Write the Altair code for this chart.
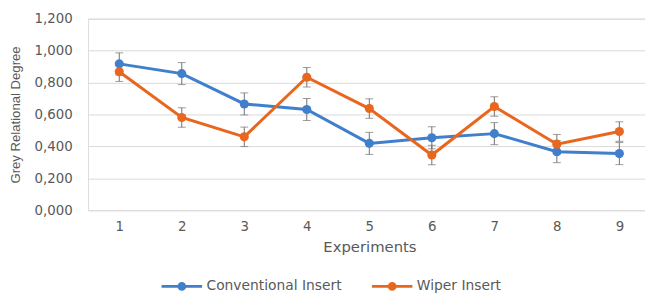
import altair as alt
import pandas as pd

experiments = [1, 2, 3, 4, 5, 6, 7, 8, 9]
conventional = [0.917, 0.856, 0.666, 0.631, 0.419, 0.454, 0.480, 0.367, 0.355]
wiper = [0.868, 0.581, 0.460, 0.833, 0.637, 0.346, 0.650, 0.414, 0.493]
err_conventional = 0.069
err_wiper = 0.061
series_names = ["Conventional Insert", "Wiper Insert"]
series_colors = ["#3F7FCB", "#E8661E"]
y_ticks = [0.0, 0.2, 0.4, 0.6, 0.8, 1.0, 1.2]

rows = []
for e, c, w in zip(experiments, conventional, wiper):
    rows.append({"exp": e, "series": series_names[0], "value": c,
                 "lo": c - err_conventional, "hi": c + err_conventional})
    rows.append({"exp": e, "series": series_names[1], "value": w,
                 "lo": w - err_wiper, "hi": w + err_wiper})
df = pd.DataFrame(rows)

TXT = "#595959"
FONT = "DejaVu Sans"
xscale = alt.Scale(domain=[0.5, 9.41], nice=False, zero=False)
yscale = alt.Scale(domain=[0, 1.2], nice=False)
cscale = alt.Scale(domain=series_names, range=series_colors)

x_axis = alt.Axis(values=experiments, format="d", grid=False, domain=False,
                  ticks=False, labelPadding=9, labelFontSize=13.5,
                  labelColor=TXT, labelFont=FONT,
                  title="Experiments", titleFont=FONT,
                  titleFontSize=15, titleFontWeight="normal", titleColor=TXT,
                  titleX=285, titleY=37, titleBaseline="middle")
y_axis = alt.Axis(values=y_ticks, grid=True, gridColor="#D9D9D9", gridWidth=1,
                  domain=False, ticks=False, labelPadding=16,
                  labelOverlap=False,
                  labelFontSize=13.5, labelColor=TXT, labelFont=FONT,
                  labelExpr="replace(format(datum.value, '.3f'), '.', ',')",
                  title="Grey Relational Degree",
                  titleFont="Liberation Sans", titleFontSize=13.3,
                  titleFontWeight="normal", titleColor=TXT,
                  titleX=-73, titleY=97, titleAngle=-90,
                  titleAlign="center", titleBaseline="middle")

legend_path = ("M-1,0L1,0 "
               "M-0.14,0A0.14,0.14 0 1,1 0.14,0A0.14,0.14 0 1,1 -0.14,0 "
               "M-0.05,0A0.05,0.05 0 1,1 0.05,0A0.05,0.05 0 1,1 -0.05,0")

X = alt.X("exp:Q", scale=xscale, axis=x_axis)

lines = alt.Chart(df).mark_line(strokeWidth=3).encode(
    x=X, y=alt.Y("value:Q", scale=yscale, axis=y_axis),
    color=alt.Color("series:N", scale=cscale,
                    legend=alt.Legend(title=None, orient="none", direction="horizontal",
                                      legendX=73, legendY=249, columns=2,
                                      symbolType=legend_path, symbolSize=1681,
                                      symbolStrokeWidth=3, symbolFillColor="transparent",
                                      labelFontSize=14, labelColor=TXT,
                                      labelFont=FONT, labelOffset=3,
                                      columnPadding=24, labelLimit=300)),
)

rules = alt.Chart(df).mark_rule(color="#707070", strokeWidth=1).encode(
    x=X, y=alt.Y("lo:Q", scale=yscale, axis=y_axis), y2="hi:Q"
)
caps_lo = alt.Chart(df).mark_tick(color="#707070", thickness=1, size=8,
                                  orient="horizontal").encode(
    x=X, y=alt.Y("lo:Q", scale=yscale, axis=y_axis))
caps_hi = alt.Chart(df).mark_tick(color="#707070", thickness=1, size=8,
                                  orient="horizontal").encode(
    x=X, y=alt.Y("hi:Q", scale=yscale, axis=y_axis))

points = alt.Chart(df).mark_circle(size=85, opacity=1).encode(
    x=X, y=alt.Y("value:Q", scale=yscale, axis=y_axis),
    color=alt.Color("series:N", scale=cscale, legend=None),
)

chart = alt.layer(lines, rules, caps_lo, caps_hi, points).properties(
    width=564, height=194,
    autosize=alt.AutoSizeParams(type="none"),
    padding={"left": 81, "top": 9, "right": 0, "bottom": 85},
).configure_view(strokeWidth=0).configure_axisY(labelOverlap=False).configure(
    background="white")

chart.save("out.html", embed_options={"renderer": "svg", "actions": False})
